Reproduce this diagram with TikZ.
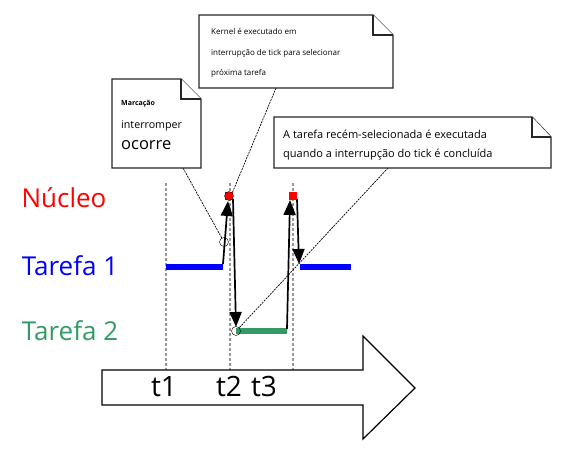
\documentclass[tikz,border=0pt]{standalone}
\usepackage{fontspec}
\setmainfont{Open Sans}
\usetikzlibrary{arrows.meta}
\definecolor{taskgreen}{RGB}{51,153,102}
\begin{document}
\begin{tikzpicture}[x=1pt, y=-1pt,
    rowlabel/.style ={font=\fontsize{26}{30}\selectfont},
    timelabel/.style ={font=\fontsize{28}{32}\selectfont},
    notetext/.style ={anchor=west, inner sep=0pt},
    marker/.style ={circle, draw, inner sep=0pt, minimum size=9pt},
    tick/.style ={rectangle, fill=red, inner sep=0pt, minimum size=8pt},
    slot/.style ={line width=6pt},
    grid/.style ={dash pattern=on 3pt off 2pt, gray!80, line width=1.3pt},
    leader/.style ={dash pattern=on 2pt off 1pt, line width=0.7pt},
    note/.style ={draw=black!85, fill=white, line width=1.3pt},
    jump/.style ={line width=1.7pt, -{Triangle[width=12pt, length=15pt]}}]
   \useasboundingbox (0,0) rectangle (566,449);
   % time grid
   \foreach \x in {166,230,293}
     \draw[grid] (\x,183) -- (\x,370);
   \draw[fill=white, line width=1.2pt] (102,370) -- (363,370) -- (363,336) -- (415,388)
     -- (363,439) -- (363,405) -- (102,405) -- cycle;
   \node[timelabel] (t1) at (164,387) {t1};
   \node[timelabel] (t2) at (229,387) {t2};
   \node[timelabel] (t3) at (264,387) {t3};
   % rows
   \node[rowlabel, red] (core) at (64,198) {Núcleo};
   \node[rowlabel, blue] (task1) at (70,266) {Tarefa 1};
   \node[rowlabel, taskgreen] (task2) at (70,331) {Tarefa 2};
   \coordinate (a1) at (166,267);
   \coordinate (a2) at (223,267);
   \coordinate (a3) at (300,267);
   \coordinate (a4) at (351,267);
   \coordinate (b1) at (236,331);
   \coordinate (b2) at (287,331);
   \draw[slot, blue] (a1) to (a2);
   \draw[slot, blue] (a3) to (a4);
   \draw[slot, taskgreen] (b1) to (b2);
   \node[tick] (k1) at (229,196) {};
   \node[tick] (k2) at (293,196) {};
   \node[marker] (c1) at (224,242) {};
   \node[marker] (c2) at (229,196) {};
   \node[marker] (c3) at (236,331) {};
   \coordinate (u1) at (223,264);
   \coordinate (u2) at (228,201);
   \coordinate (d1) at (233,199);
   \coordinate (d2) at (236,327);
   \coordinate (u3) at (287,329);
   \coordinate (u4) at (290,200);
   \coordinate (d3) at (297,199);
   \coordinate (d4) at (299,264);
   \draw[jump] (u1) to (u2);
   \draw[jump] (d1) to (d2);
   \draw[jump] (u3) to (u4);
   \draw[jump] (d3) to (d4);
   % notes
   \coordinate (n1) at (183,168);
   \coordinate (n2) at (276,88);
   \coordinate (n3) at (388,168);
   \draw[leader] (n1) to (c1);
   \draw[leader] (n2) to (c2.north east);
   \draw[leader] (n3) to (c3.north east);
   \draw[note] (112,79) -- (181,79) -- (201,99) -- (201,168) -- (112,168) -- cycle;
   \draw[note] (181,79) -- (181,99) -- (201,99);
   \node[notetext, font=\fontsize{7}{8}\selectfont\bfseries] (m1) at (121,104) {Marcação};
   \node[notetext, font=\fontsize{10.7}{12}\selectfont] (m2) at (121,126) {interromper};
   \node[notetext, font=\fontsize{16.5}{18}\selectfont] (m3) at (121,145) {ocorre};
   \draw[note] (199,15) -- (373,15) -- (393,35) -- (393,88) -- (199,88) -- cycle;
   \draw[note] (373,15) -- (373,35) -- (393,35);
   \node[notetext, font=\fontsize{8}{9}\selectfont] (k1t) at (211,31) {Kernel é executado em};
   \node[notetext, font=\fontsize{8}{9}\selectfont] (k2t) at (211,53) {interrupção de tick para selecionar};
   \node[notetext, font=\fontsize{8}{9}\selectfont] (k3t) at (211,73) {próxima tarefa};
   \draw[note] (274,117) -- (532,117) -- (551,137) -- (551,168) -- (274,168) -- cycle;
   \draw[note] (532,117) -- (532,137) -- (551,137);
   \node[notetext, font=\fontsize{11}{13}\selectfont] (s1) at (283,134) {A tarefa recém-selecionada é executada};
   \node[notetext, font=\fontsize{11}{13}\selectfont] (s2) at (283,155) {quando a interrupção do tick é concluída};
 \end{tikzpicture}
\end{document}
